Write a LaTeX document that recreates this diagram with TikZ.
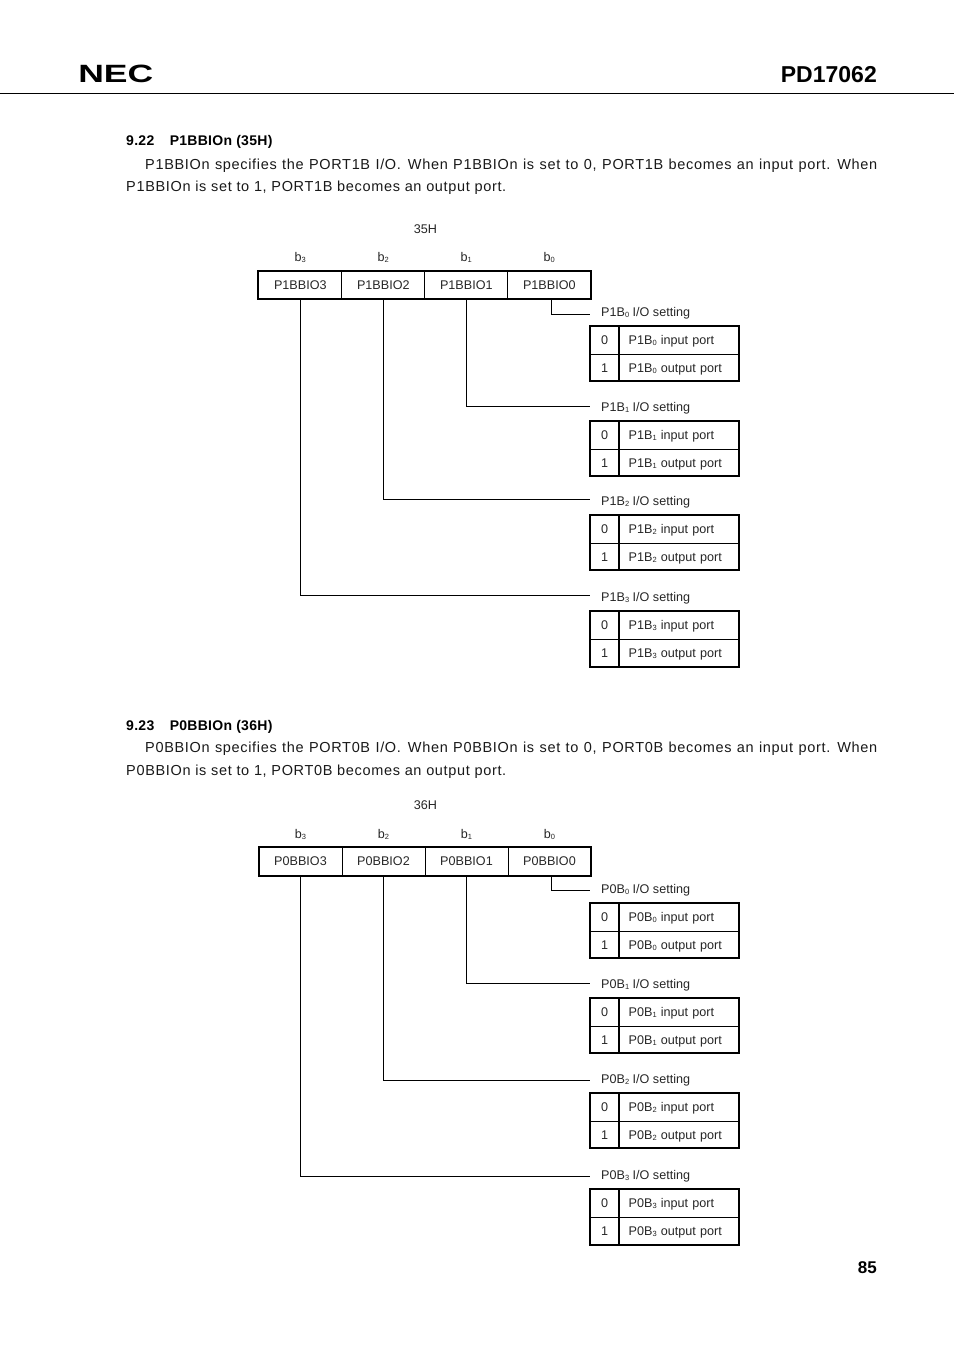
\documentclass[tikz,border=0pt]{standalone}
\usepackage{fontspec}
\setmainfont{Liberation Sans}
\newfontfamily\bodyfont[LetterSpace=4.6]{Liberation Sans}
\newfontfamily\headfont[LetterSpace=2]{Liberation Sans}
\usepackage{tikz}
\usetikzlibrary{positioning,calc}

\newcommand{\bitsub}[1]{\raisebox{-1pt}{\fontsize{7.5}{8}\selectfont #1}}

\tikzset{
    smalltext/.style={font=\fontsize{12.6}{14}\selectfont, text=black!85, inner sep=0pt},
    bodytext/.style={font=\bodyfont\fontsize{14.5}{16}\selectfont, text=black!90, inner sep=0pt, anchor=base west},
    headtext/.style={font=\headfont\bfseries\fontsize{14}{16}\selectfont, inner sep=0pt, anchor=base west},
    regcell/.style={smalltext, draw, line width=0.9pt, minimum width=83pt, minimum height=28pt},
    valcell/.style={smalltext, draw, line width=0.9pt, minimum width=28pt, text height=9pt, text depth=0pt},
    desccell/.style={smalltext, draw, line width=0.9pt, minimum width=120pt, anchor=west, align=left, text width=100.5pt, inner xsep=9.75pt, text height=9pt, text depth=0pt},
    titletext/.style={smalltext, anchor=west, text height=9pt, text depth=0pt},
    conn/.style={line width=0.9pt},
    outer/.style={line width=2pt}
}

% #1 port, #2 register, #3 address, #4 top of register, #5 left of register, #6 settings
\newcommand{\regblock}[6]{
    \node[smalltext] (#2addr) at (425.5,#4-42) {#3};
    % Register cells
    \foreach \n/\k in {3/0,2/1,1/2,0/3}{
        \node[regcell] (#2\n) at ({#5+41.5+83*\k},#4+14) {#2\n};
        \node[smalltext] (#2lab\n) at ({#5+41.5+83*\k},#4-13.5) {b\bitsub{\n}};
    }
    \draw[outer] (#2\string3.north west) rectangle (#2\string0.south east);
    % Setting tables
    \foreach \n/\cy/\ly/\ta/\tb/\tc in {#6}{
        \coordinate (#1end\n) at (590,\cy);
        \node[titletext] (#1title\n) at (601,\ly) {#1\bitsub{\n} I/O setting};
        \node[valcell, minimum height=\tb-\ta] (#1zero\n) at (604.5,{(\ta+\tb)/2}) {0};
        \node[valcell, minimum height=\tc-\tb] (#1one\n) at (604.5,{(\tb+\tc)/2}) {1};
        \node[desccell, minimum height=\tb-\ta] (#1in\n) at (618.5,{(\ta+\tb)/2}) {#1\bitsub{\n} input port};
        \node[desccell, minimum height=\tc-\tb] (#1out\n) at (618.5,{(\tb+\tc)/2}) {#1\bitsub{\n} output port};
        \draw[outer] (#1zero\n.north west) rectangle (#1out\n.south east);
    }
    % Connectors
    \draw[conn] ([xshift=2.2pt]#20.south) |- (#1end0);
    \draw[conn] (#21.south) |- (#1end1);
    \draw[conn] (#22.south) |- (#1end2);
    \draw[conn] (#23.south) |- (#1end3);
}

\begin{document}
\begin{tikzpicture}[x=1pt,y=-1pt]
    \useasboundingbox (0,0) rectangle (954,1351);

    % Page header
    \node[font=\bfseries\fontsize{25}{25}\selectfont, inner sep=0pt, anchor=base west, xscale=1.42] (logo) at (78,83) {NEC};
    \node[font=\bfseries\fontsize{23}{23}\selectfont, inner sep=0pt, anchor=base east] (title) at (877,83) {PD17062};
    \coordinate (ruleL) at (0,93.5);
    \coordinate (ruleR) at (954,93.5);
    \draw[conn] (ruleL) -- (ruleR);

    % Section 9.22
    \node[headtext] (headA) at (126,146) {9.22\hspace{15.5pt}P1BBIOn (35H)};
    \node[bodytext] (lineA) at (145,169.5) {\makebox[732pt][s]{P1BBIOn specifies the PORT1B I/O.\hspace{7pt}When P1BBIOn is set to 0, PORT1B becomes an input port.\hspace{7pt}When}};
    \node[bodytext] (lineB) at (126,191.5) {P1BBIOn is set to 1, PORT1B becomes an output port.};
    \regblock{P1B}{P1BBIO}{35H}{271}{258.8}{0/314/312/326/354/381,1/406/407/421/449/476,2/499/501/515/543/570,3/595/597/611/639/667}

    % Section 9.23
    \node[headtext] (headB) at (126,730) {9.23\hspace{15.5pt}P0BBIOn (36H)};
    \node[bodytext] (lineC) at (145,752.5) {\makebox[732pt][s]{P0BBIOn specifies the PORT0B I/O.\hspace{7pt}When P0BBIOn is set to 0, PORT0B becomes an input port.\hspace{7pt}When}};
    \node[bodytext] (lineD) at (126,775.5) {P0BBIOn is set to 1, PORT0B becomes an output port.};
    \regblock{P0B}{P0BBIO}{36H}{847.5}{259}{0/890/889/903/931/958,1/983/984/998/1026/1053,2/1080/1079/1093/1121/1148,3/1176/1175/1189/1217/1245}

    % Page number
    \node[font=\bfseries\fontsize{17}{17}\selectfont, inner sep=0pt, anchor=base east] (pageno) at (877,1273) {85};
\end{tikzpicture}
\end{document}
